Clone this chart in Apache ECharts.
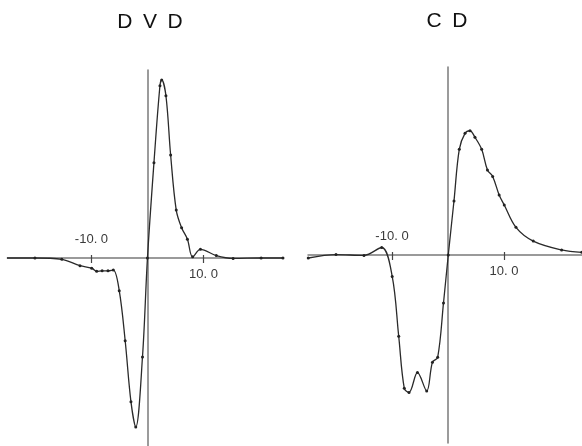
<!DOCTYPE html>
<html>
<head>
<meta charset="utf-8">
<script src="https://cdn.jsdelivr.net/npm/echarts@6/dist/echarts.min.js"></script>
<style>html,body{margin:0;padding:0;background:#fff}#c{width:582px;height:446px}</style>
</head>
<body>
<div id="c"></div>
<script>
// ---- data ----
const titles = ['D\u2002V\u2002D', 'C\u2002D'];
const tickValues = [-10, 10];
const topLabelValues = [-10];
const bottomLabelValues = [10];

const dvdX = [-25.1, -20.1, -15.3, -12.05, -9.96, -9.07, -8.1, -7.05, -6.1, -5.04, -3.98, -2.95, -2.09, -0.89, 0, 1.16, 2.23, 2.54, 3.3, 4.14, 5.14, 6.1, 7.14, 8.07, 9.46, 12.3, 15.3, 20.3, 24.2];
const dvdY = [0, 0, -0.007, -0.041, -0.054, -0.071, -0.068, -0.068, -0.064, -0.174, -0.44, -0.764, -0.899, -0.527, 0, 0.507, 0.916, 0.947, 0.863, 0.548, 0.255, 0.161, 0.1, 0.006, 0.046, 0.013, -0.002, 0, 0];

const cdX = [-24.95, -20, -15, -11.84, -9.96, -8.8, -7.8, -6.96, -5.45, -3.8, -2.77, -1.84, -0.8, 0.05, 1.07, 2.02, 3.04, 3.93, 4.82, 6.02, 7.05, 7.98, 9.14, 10.05, 12.14, 15.23, 20.3, 23.9];
const cdY = [-0.016, 0.002, -0.002, 0.04, -0.114, -0.432, -0.709, -0.731, -0.625, -0.723, -0.57, -0.544, -0.255, 0, 0.287, 0.562, 0.647, 0.661, 0.626, 0.562, 0.452, 0.418, 0.319, 0.266, 0.147, 0.074, 0.027, 0.014];

// ---- chart ----
const axisColor = '#7a7a7a';
const fmt = v => v.toFixed(1).replace('.', '. ');
const labelFont = {color: '#3a3a3a', fontSize: 13, fontFamily: 'Liberation Sans, Arial, sans-serif'};
const panels = [
  {x: dvdX, y: dvdY, xmin: -25, xmax: 24.3, grid: {left: 7.5, width: 276, top: 70, height: 376}, tx: 150, ty: 22},
  {x: cdX, y: cdY, xmin: -25, xmax: 23.9, grid: {left: 308, width: 273.8, top: 67, height: 376}, tx: 447, ty: 21}
];
const option = {
  animation: false,
  backgroundColor: '#fff',
  grid: [], xAxis: [], yAxis: [], series: [], graphic: []
};
panels.forEach((p, i) => {
  const half = -p.grid.height / 2; // moves the x axes to the middle of the grid (y = 0)
  option.grid.push(Object.assign({containLabel: false, outerBoundsMode: 'none'}, p.grid));
  option.xAxis.push({
    gridIndex: i, type: 'value', min: p.xmin, max: p.xmax, position: 'bottom', offset: half,
    axisLine: {show: true, onZero: false, lineStyle: {color: axisColor, width: 1.5}},
    axisTick: {show: true, customValues: tickValues, length: 5, lineStyle: {color: '#444', width: 1.2}},
    axisLabel: Object.assign({show: true, customValues: bottomLabelValues, formatter: fmt, margin: 10}, labelFont),
    splitLine: {show: false}
  });
  option.xAxis.push({
    gridIndex: i, type: 'value', min: p.xmin, max: p.xmax, position: 'top', offset: half,
    axisLine: {show: false, onZero: false},
    axisTick: {show: true, customValues: tickValues, length: 3, lineStyle: {color: '#444', width: 1.2}},
    axisLabel: Object.assign({show: true, customValues: topLabelValues, formatter: fmt, margin: 12}, labelFont),
    splitLine: {show: false}
  });
  option.yAxis.push({
    gridIndex: i, type: 'value', min: -1, max: 1,
    axisLine: {show: true, onZero: true, lineStyle: {color: axisColor, width: 1.5}},
    axisTick: {show: false}, axisLabel: {show: false}, splitLine: {show: false}
  });
  option.series.push({
    type: 'line', xAxisIndex: i * 2, yAxisIndex: i,
    data: p.x.map((v, k) => [v, p.y[k]]),
    smooth: 0.35, symbol: 'circle', symbolSize: 3,
    itemStyle: {color: '#222'},
    lineStyle: {color: '#2a2a2a', width: 1.3}
  });
  option.graphic.push({
    type: 'text', x: p.tx, y: p.ty,
    style: {text: titles[i], align: 'center', verticalAlign: 'middle',
      font: '21px "Liberation Sans", Arial, sans-serif', fill: '#111'}
  });
});
echarts.init(document.getElementById('c'), null, {renderer: 'canvas'}).setOption(option);
</script>
</body>
</html>
